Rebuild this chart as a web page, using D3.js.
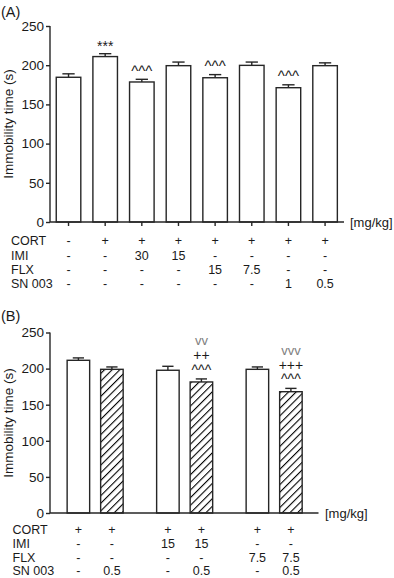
<!DOCTYPE html>
<html>
<head>
<meta charset="utf-8">
<script src="https://cdn.jsdelivr.net/npm/d3@7"></script>
<style>
  body { margin: 0; background: #fff; }
  svg { display: block; font-family: "Liberation Sans", Arial, sans-serif; }
</style>
</head>
<body>
<svg id="svg" width="394" height="578"></svg>
<script>
// panel A
const meanA = [184.6, 211, 178.6, 199.4, 184, 199.8, 171.3, 199.4];
const semA = [4.4, 3.7, 3.4, 4.6, 4, 4.2, 3.7, 3.6];
const signA = ["", "***", "^^^", "", "^^^", "", "^^^", ""];
const rowNames = ["CORT", "IMI", "FLX", "SN 003"];
const tableA = [
  ["-", "+", "+", "+", "+", "+", "+", "+"],
  ["-", "-", "30", "15", "-", "-", "-", "-"],
  ["-", "-", "-", "-", "15", "7.5", "-", "-"],
  ["-", "-", "-", "-", "-", "-", "1", "0.5"]
];
// panel B: 3 groups x 2 bars (open = without SN 003, hatched = with SN 003 0.5)
const meanB = [211.5, 199, 197.7, 181.5, 199, 168];
const semB = [3.3, 3.3, 5.5, 4.2, 3.3, 4.6];
const signB = [[], [], [], ["^^^", "++", "vv"], [], ["^^^", "+++", "vvv"]];
const tableB = [
  ["+", "+", "+", "+", "+", "+"],
  ["-", "-", "15", "15", "-", "-"],
  ["-", "-", "-", "-", "7.5", "7.5"],
  ["-", "0.5", "-", "0.5", "-", "0.5"]
];
const yTicks = [0, 50, 100, 150, 200, 250];

const ink = "#262626";
const svg = d3.select("#svg");

svg.append("defs")
  .append("pattern")
  .attr("id", "hatch")
  .attr("patternUnits", "userSpaceOnUse")
  .attr("width", 5.4)
  .attr("height", 5.4)
  .attr("patternTransform", "rotate(45)")
  .append("line")
  .attr("x1", 0).attr("y1", -1)
  .attr("x2", 0).attr("y2", 6.4)
  .attr("stroke", "#000")
  .attr("stroke-width", 2.2);

const yAxisOf = (g, y, x0) => {
  const ax = g.append("g")
    .attr("transform", `translate(${x0},0)`)
    .call(d3.axisLeft(y).tickValues(yTicks).tickSize(4).tickPadding(2));
  ax.select(".domain").attr("stroke", ink).attr("stroke-width", 1.4)
    .attr("d", `M0,${y(0)}V${y(250)}`);
  ax.selectAll(".tick line").attr("stroke", ink).attr("stroke-width", 1.4);
  ax.selectAll("text").attr("font-size", 13.5).attr("fill", "#1a1a1a")
    .attr("font-family", "Liberation Sans, Arial, sans-serif");
};

const yTitle = (g, x, yc) =>
  g.append("text")
    .attr("transform", `translate(${x},${yc}) rotate(-90)`)
    .attr("text-anchor", "middle")
    .attr("font-size", 13.5)
    .attr("fill", "#1a1a1a")
    .text("Immobility time (s)");

const errorBar = (g, cx, yTop, yErr, cap) => {
  g.append("line").attr("x1", cx).attr("x2", cx).attr("y1", yTop).attr("y2", yErr)
    .attr("stroke", ink).attr("stroke-width", 1.4);
  g.append("line").attr("x1", cx - cap / 2).attr("x2", cx + cap / 2)
    .attr("y1", yErr).attr("y2", yErr)
    .attr("stroke", ink).attr("stroke-width", 1.4);
};

// vertical centre of glyph above baseline, in em
const glyphMid = { "*": 0.58, "^": 0.5, "+": 0.35, "v": 0.26 };

const drawTable = (g, xs, rows, labelX, rowY) => {
  rows.forEach((row, r) => {
    g.append("text").attr("x", labelX).attr("y", rowY[r] + 4.5)
      .attr("font-size", 12.5).attr("fill", "#1a1a1a").text(rowNames[r]);
    row.forEach((v, i) => {
      g.append("text").attr("x", xs(i)).attr("y", rowY[r] + 4.5)
        .attr("text-anchor", "middle").attr("font-size", 12.5).attr("fill", "#1a1a1a")
        .text(v);
    });
  });
};

// ---------- (A) ----------
const gA = svg.append("g");
const yA = d3.scaleLinear().domain([0, 250]).range([222, 26]);
const xA = d3.scaleBand().domain(d3.range(meanA.length)).range([50.2, 343.4])
  .paddingInner(0.33).paddingOuter(0.165);

gA.append("text").attr("x", 1).attr("y", 17).attr("font-size", 14.5).attr("fill", "#1a1a1a").text("(A)");

meanA.forEach((m, i) => {
  const x = xA(i), w = xA.bandwidth(), cx = x + w / 2;
  errorBar(gA, cx, yA(m), yA(m + semA[i]), w * 0.5);
  gA.append("rect").attr("x", x).attr("y", yA(m)).attr("width", w).attr("height", yA(0) - yA(m))
    .attr("fill", "#fff").attr("stroke", ink).attr("stroke-width", 1.4);
  if (signA[i]) {
    const fs = signA[i][0] === "*" ? 14 : 15;
    gA.append("text").attr("x", cx)
      .attr("y", yA(m + semA[i]) - 11 + glyphMid[signA[i][0]] * fs)
      .attr("text-anchor", "middle").attr("font-size", fs).attr("fill", "#1a1a1a")
      .text(signA[i]);
  }
});

yAxisOf(gA, yA, 50);
// x axis with ticks under each bar
gA.append("line").attr("x1", 50).attr("x2", 344).attr("y1", yA(0)).attr("y2", yA(0))
  .attr("stroke", ink).attr("stroke-width", 1.4);
meanA.forEach((m, i) => {
  const cx = xA(i) + xA.bandwidth() / 2;
  gA.append("line").attr("x1", cx).attr("x2", cx).attr("y1", yA(0)).attr("y2", yA(0) + 4)
    .attr("stroke", ink).attr("stroke-width", 1.4);
});
gA.append("text").attr("x", 350).attr("y", 226.5).attr("font-size", 13).attr("fill", "#1a1a1a").text("[mg/kg]");
yTitle(gA, 12.5, 124);
drawTable(gA, i => xA(i) + xA.bandwidth() / 2, tableA, 11, [240.7, 255, 269, 283]);

// ---------- (B) ----------
const gB = svg.append("g");
const yB = d3.scaleLinear().domain([0, 250]).range([513, 332.5]);
const groups = d3.range(meanB.length / 2);
const xG = d3.scaleBand().domain(groups).range([50.4, 318.9]).paddingInner(0.374).paddingOuter(0.187);
const xSub = d3.scaleBand().domain([0, 1]).range([0, xG.bandwidth()]).paddingInner(0.328);
const xB = i => xG(Math.floor(i / 2)) + xSub(i % 2);
const wB = xSub.bandwidth();

gB.append("text").attr("x", 1).attr("y", 321).attr("font-size", 14.5).attr("fill", "#1a1a1a").text("(B)");

meanB.forEach((m, i) => {
  const x = xB(i), cx = x + wB / 2;
  errorBar(gB, cx, yB(m), yB(m + semB[i]), wB * 0.5);
  gB.append("rect").attr("x", x).attr("y", yB(m)).attr("width", wB).attr("height", yB(0) - yB(m))
    .attr("fill", i % 2 ? "url(#hatch)" : "#fff").attr("stroke", ink).attr("stroke-width", 1.4);
  const offs = [11, 23.6, 37];
  signB[i].forEach((s, k) => {
    const fs = s[0] === "v" ? 13 : 14;
    gB.append("text").attr("x", cx)
      .attr("y", yB(m + semB[i]) - offs[k] + glyphMid[s[0]] * fs)
      .attr("text-anchor", "middle").attr("font-size", fs)
      .attr("fill", s[0] === "v" ? "#808080" : "#1a1a1a")
      .text(s);
  });
});

yAxisOf(gB, yB, 50);
gB.append("line").attr("x1", 50).attr("x2", 318.5).attr("y1", yB(0)).attr("y2", yB(0))
  .attr("stroke", ink).attr("stroke-width", 1.4);
gB.append("text").attr("x", 325).attr("y", 517.5).attr("font-size", 13).attr("fill", "#1a1a1a").text("[mg/kg]");
yTitle(gB, 12.5, 423);
drawTable(gB, i => xB(i) + wB / 2, tableB, 12.5, [529.5, 543.5, 557.3, 570.5]);
</script>
</body>
</html>
